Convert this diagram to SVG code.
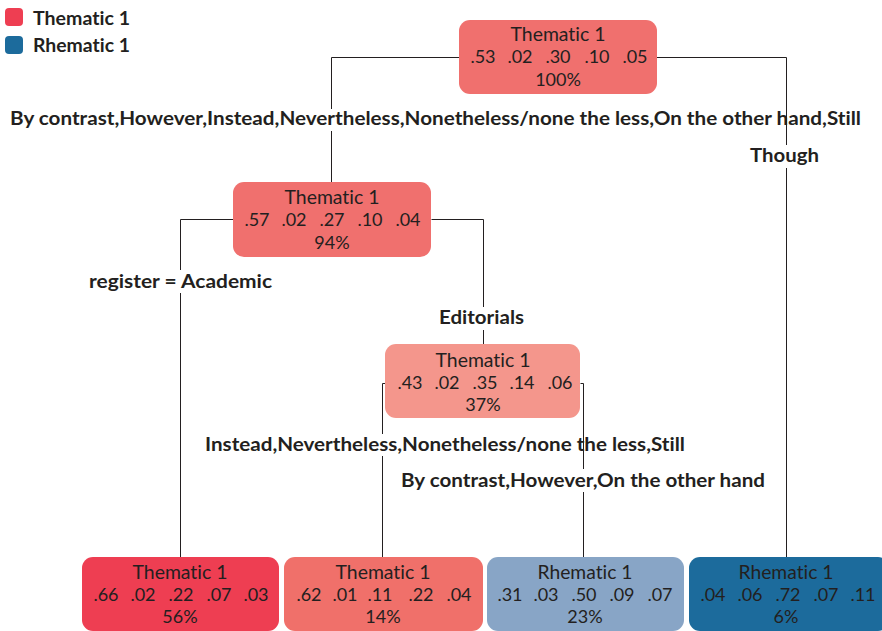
<svg xmlns="http://www.w3.org/2000/svg" width="882" height="631" viewBox="0 0 882 631">
  <style>
    .box { stroke: none; }
    text { font-variant-ligatures: none; }
    .t { font-family: Lato, "Open Sans", "Liberation Sans", sans-serif; fill: #231f20; text-anchor: middle; }
    .title { font-size: 20px; }
    .num { font-size: 18px; }
    .lbl { font-family: Lato, "Open Sans", "Liberation Sans", sans-serif; font-weight: bold; font-size: 18px; fill: #231f20; }
    .edge { fill: none; stroke: #231f20; stroke-width: 1; }
  </style>

  <!-- legend -->
  <g id="legend">
    <rect x="5" y="8" width="18" height="18" rx="4" fill="#ee3e52"/>
    <text class="lbl" x="33" y="25" textLength="97" lengthAdjust="spacingAndGlyphs">Thematic 1</text>
    <rect x="5" y="36" width="18" height="18" rx="4" fill="#1c6b9c"/>
    <text class="lbl" x="33" y="52" textLength="97" lengthAdjust="spacingAndGlyphs">Rhematic 1</text>
  </g>

  <!-- connectors -->
  <g id="connectors">
    <path class="edge" d="M459.5 57.5 H331.5 V109"/>
    <path class="edge" d="M331.5 131 V182"/>
    <path class="edge" d="M656.5 57.5 H786.5 V145"/>
    <path class="edge" d="M786.5 168 V557"/>
    <path class="edge" d="M233.5 219.5 H180.5 V270"/>
    <path class="edge" d="M180.5 293 V557"/>
    <path class="edge" d="M431.5 219.5 H483.5 V307"/>
    <path class="edge" d="M483.5 330 V345"/>
    <path class="edge" d="M386.5 383.5 H382.5 V434"/>
    <path class="edge" d="M382.5 456 V557"/>
    <path class="edge" d="M580.5 383.5 H583.5 V469"/>
    <path class="edge" d="M583.5 492 V557"/>
  </g>

  <!-- edge labels -->
  <g id="edge-labels">
    <text class="lbl" x="10" y="125" textLength="851" lengthAdjust="spacingAndGlyphs">By contrast,However,Instead,Nevertheless,Nonetheless/none the less,On the other hand,Still</text>
    <text class="lbl" x="750" y="162" textLength="69" lengthAdjust="spacingAndGlyphs">Though</text>
    <text class="lbl" x="89" y="288" textLength="183" lengthAdjust="spacingAndGlyphs">register = Academic</text>
    <text class="lbl" x="439" y="324" textLength="85" lengthAdjust="spacingAndGlyphs">Editorials</text>
    <text class="lbl" x="205" y="451" textLength="480" lengthAdjust="spacingAndGlyphs">Instead,Nevertheless,Nonetheless/none the less,Still</text>
    <text class="lbl" x="401" y="487" textLength="364" lengthAdjust="spacingAndGlyphs">By contrast,However,On the other hand</text>
  </g>

  <!-- root -->
  <g id="node-root">
    <rect class="box" x="459" y="20" width="198" height="74" rx="11" fill="#f0706e"/>
    <text class="t title" x="558" y="41" textLength="95" lengthAdjust="spacingAndGlyphs">Thematic 1</text>
    <text class="t num" x="483" y="63">.53</text>
    <text class="t num" x="520" y="63">.02</text>
    <text class="t num" x="558" y="63">.30</text>
    <text class="t num" x="597" y="63">.10</text>
    <text class="t num" x="635" y="63">.05</text>
    <text class="t num" x="558" y="86">100%</text>
  </g>

  <g id="node-2">
    <rect class="box" x="233" y="182" width="198" height="75" rx="11" fill="#f0706e"/>
    <text class="t title" x="332" y="204" textLength="95" lengthAdjust="spacingAndGlyphs">Thematic 1</text>
    <text class="t num" x="257" y="226">.57</text>
    <text class="t num" x="294" y="226">.02</text>
    <text class="t num" x="332" y="226">.27</text>
    <text class="t num" x="370" y="226">.10</text>
    <text class="t num" x="408" y="226">.04</text>
    <text class="t num" x="332" y="249">94%</text>
  </g>

  <g id="node-3">
    <rect class="box" x="385" y="344" width="195" height="74" rx="11" fill="#f4968c"/>
    <text class="t title" x="483" y="367" textLength="95" lengthAdjust="spacingAndGlyphs">Thematic 1</text>
    <text class="t num" x="410" y="389">.43</text>
    <text class="t num" x="447" y="389">.02</text>
    <text class="t num" x="485" y="389">.35</text>
    <text class="t num" x="522" y="389">.14</text>
    <text class="t num" x="560" y="389">.06</text>
    <text class="t num" x="483" y="411">37%</text>
  </g>

  <g id="leaf-1">
    <rect class="box" x="82" y="557" width="197" height="74" rx="11" fill="#ee3e52"/>
    <text class="t title" x="180" y="579" textLength="95" lengthAdjust="spacingAndGlyphs">Thematic 1</text>
    <text class="t num" x="106" y="601">.66</text>
    <text class="t num" x="143" y="601">.02</text>
    <text class="t num" x="181" y="601">.22</text>
    <text class="t num" x="219" y="601">.07</text>
    <text class="t num" x="256" y="601">.03</text>
    <text class="t num" x="180" y="623">56%</text>
  </g>

  <g id="leaf-2">
    <rect class="box" x="284" y="557" width="199" height="74" rx="11" fill="#f0706a"/>
    <text class="t title" x="383" y="579" textLength="95" lengthAdjust="spacingAndGlyphs">Thematic 1</text>
    <text class="t num" x="309" y="601">.62</text>
    <text class="t num" x="345" y="601">.01</text>
    <text class="t num" x="380" y="601">.11</text>
    <text class="t num" x="421" y="601">.22</text>
    <text class="t num" x="459" y="601">.04</text>
    <text class="t num" x="383" y="623">14%</text>
  </g>

  <g id="leaf-3">
    <rect class="box" x="487" y="557" width="197" height="74" rx="11" fill="#88a5c6"/>
    <text class="t title" x="585" y="579" textLength="95" lengthAdjust="spacingAndGlyphs">Rhematic 1</text>
    <text class="t num" x="510" y="601">.31</text>
    <text class="t num" x="546" y="601">.03</text>
    <text class="t num" x="584" y="601">.50</text>
    <text class="t num" x="622" y="601">.09</text>
    <text class="t num" x="660" y="601">.07</text>
    <text class="t num" x="585" y="623">23%</text>
  </g>

  <g id="leaf-4">
    <rect class="box" x="689" y="557" width="200" height="74" rx="11" fill="#1c6b9c"/>
    <text class="t title" x="786" y="579" textLength="95" lengthAdjust="spacingAndGlyphs">Rhematic 1</text>
    <text class="t num" x="713" y="601">.04</text>
    <text class="t num" x="750" y="601">.06</text>
    <text class="t num" x="788" y="601">.72</text>
    <text class="t num" x="826" y="601">.07</text>
    <text class="t num" x="863" y="601">.11</text>
    <text class="t num" x="786" y="623">6%</text>
  </g>
</svg>
